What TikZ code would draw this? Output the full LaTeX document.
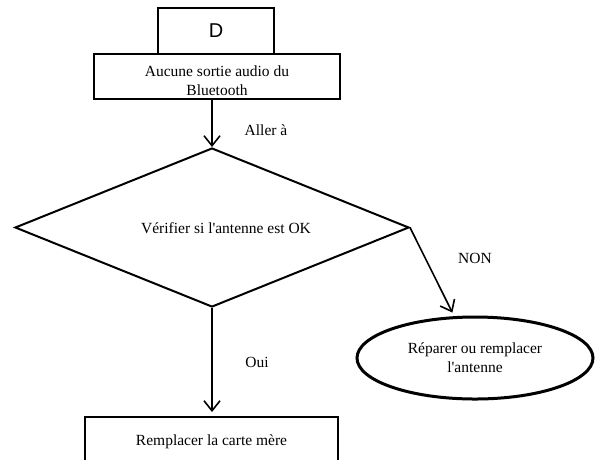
\documentclass[tikz,border=0pt]{standalone}
\usepackage{fontspec}
\setmainfont{Liberation Serif}
\newfontfamily\dfont{Liberation Sans}
\usetikzlibrary{shapes.geometric,arrows.meta}
\begin{document}
\begin{tikzpicture}[x=1pt,y=-1pt,
  txt/.style={font=\fontsize{15.5}{19}\selectfont, inner sep=0pt},
  boxst/.style={draw, line width=2pt, inner sep=0pt, align=center, txt},
  arr/.style={line width=1.6pt, -{Straight Barb[length=10pt,width=16pt,line width=1.6pt]}}]
\useasboundingbox (0,0) rectangle (596,459);
\clip (0,0) rectangle (596,459);
% boxes
\node[boxst, line width=2.5pt, minimum width=116, minimum height=46,
      font=\dfont\fontsize{20}{22}\selectfont] (d) at (216,31) {D};
\node[boxst, minimum width=246, minimum height=45] (start) at (217,76.5) {};
\node[txt, align=center] (starttext) at (217,81) {Aucune sortie audio du\\Bluetooth};
\node[draw, diamond, line width=2pt, minimum width=394, minimum height=159,
      inner sep=0pt] (dec) at (212,227.5) {};
\node[txt] (dectext) at (226,228) {Vérifier si l\textquotesingle antenne est OK};
\node[draw, ellipse, line width=3pt, minimum width=236, minimum height=82,
      inner sep=0pt, align=center, txt] (ell) at (475,358)
      {Réparer ou remplacer\\l\textquotesingle antenne};
\node[boxst, minimum width=253, minimum height=50] (mb) at (211.5,442)
      {Remplacer la carte mère};
% connectors
\draw[arr] (dec.north |- start.south) -- (dec.north);
\draw[arr, shorten >=4pt] (dec.east) -- (ell);
\draw[arr, shorten >=4pt] (dec.south) -- (dec.south |- mb.north);
% labels
\node[txt] (aller) at (266,130) {Aller à};
\node[txt] (non) at (475,258) {NON};
\node[txt] (oui) at (257,362) {Oui};
\end{tikzpicture}
\end{document}
